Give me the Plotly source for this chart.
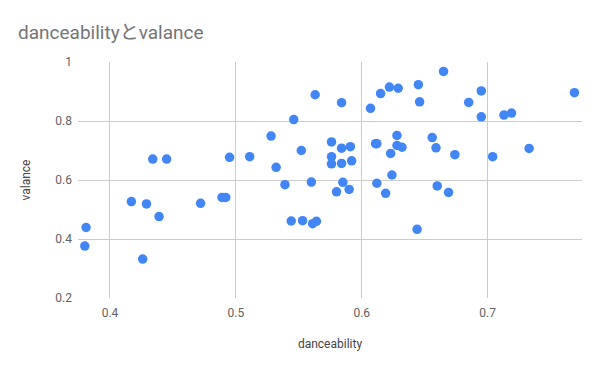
import plotly.graph_objects as go

danceability = [0.381, 0.380, 0.417, 0.426, 0.429, 0.434, 0.445, 0.439, 0.472, 0.489, 0.492,
                0.495, 0.511, 0.528, 0.532, 0.539, 0.544, 0.546, 0.552, 0.553, 0.560, 0.561,
                0.564, 0.563, 0.576, 0.576, 0.576, 0.584, 0.584, 0.584, 0.580, 0.585, 0.590,
                0.591, 0.592, 0.607, 0.611, 0.612, 0.612, 0.615, 0.619, 0.622, 0.623, 0.624,
                0.628, 0.628, 0.629, 0.632, 0.644, 0.645, 0.646, 0.656, 0.659, 0.660, 0.665,
                0.669, 0.674, 0.685, 0.695, 0.695, 0.704, 0.713, 0.719, 0.733, 0.769]
valance = [0.439, 0.376, 0.527, 0.332, 0.519, 0.671, 0.671, 0.476, 0.521, 0.541, 0.541,
           0.677, 0.679, 0.749, 0.643, 0.584, 0.461, 0.805, 0.700, 0.462, 0.593, 0.452,
           0.460, 0.889, 0.729, 0.679, 0.655, 0.862, 0.708, 0.656, 0.560, 0.592, 0.568,
           0.713, 0.665, 0.843, 0.723, 0.723, 0.589, 0.893, 0.555, 0.915, 0.690, 0.617,
           0.751, 0.717, 0.911, 0.711, 0.433, 0.923, 0.865, 0.744, 0.709, 0.580, 0.968,
           0.558, 0.686, 0.863, 0.902, 0.814, 0.679, 0.820, 0.827, 0.707, 0.896]

x_ticks = [0.4, 0.5, 0.6, 0.7]
y_ticks = [0.2, 0.4, 0.6, 0.8, 1]

fig = go.Figure(go.Scatter(
    x=danceability, y=valance, mode="markers",
    marker=dict(color="#4285F4", size=9.5, line=dict(width=0)),
    hoverinfo="x+y",
))

fig.update_layout(
    width=600, height=371,
    margin=dict(l=70, r=26, t=54, b=81),
    paper_bgcolor="white", plot_bgcolor="white",
    font=dict(family="Roboto, Arial, sans-serif", color="#616161", size=12),
    title=dict(text="danceabilityとvalance", x=10 / 600, xref="container", xanchor="left",
               y=1 - 24 / 371, yref="container", yanchor="middle", pad=dict(l=0),
               font=dict(family="Roboto, 'Noto Sans CJK JP', sans-serif", size=19, color="#757575")),
    showlegend=False,
    xaxis=dict(range=[0.3746, 0.775], tickvals=x_ticks, ticktext=[str(v) for v in x_ticks],
               showgrid=True, gridcolor="#cccccc", gridwidth=1, zeroline=False,
               showline=False, ticks="", ticklabelstandoff=6,
               title=dict(text="danceability", standoff=20, font=dict(size=12, color="#444444"))),
    yaxis=dict(range=[0.2, 1.0], tickvals=y_ticks, ticktext=["0.2", "0.4", "0.6", "0.8", "1"],
               showgrid=True, gridcolor="#cccccc", gridwidth=1, zeroline=False,
               showline=False, ticks="", ticklabelstandoff=5,
               title=dict(text="valance", standoff=22, font=dict(size=12, color="#444444"))),
)

fig.write_html("out.html")
